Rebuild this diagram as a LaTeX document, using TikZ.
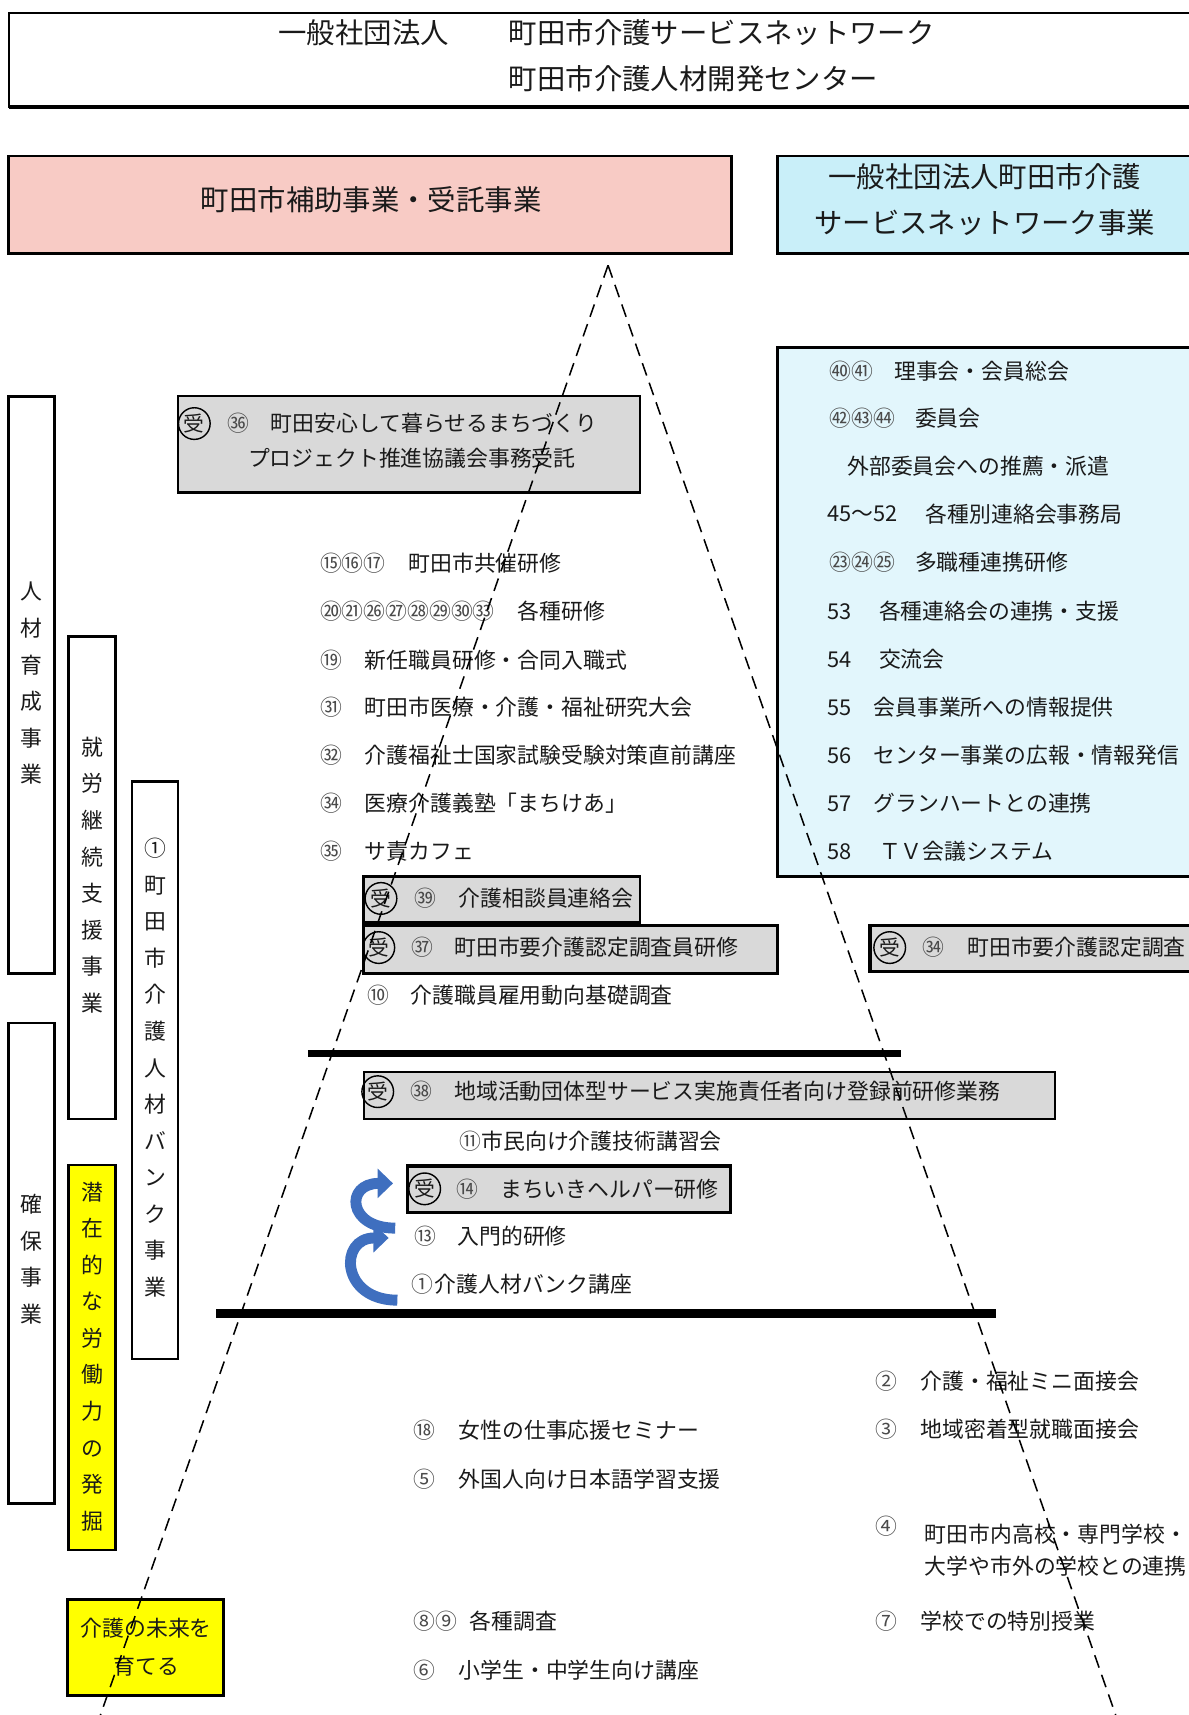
\documentclass[tikz,border=0pt]{standalone}
\usepackage{fontspec}
\setmainfont{Noto Sans CJK JP}
\usetikzlibrary{arrows.meta}
\definecolor{pinkhead}{HTML}{F8CBC5}
\definecolor{cyanhead}{HTML}{C9EFF9}
\definecolor{cyanlist}{HTML}{E2F6FC}
\definecolor{graybox}{HTML}{D9D9D9}
\definecolor{arrowblue}{HTML}{3F6FBF}
\definecolor{inktext}{HTML}{1A1A1A}
\definecolor{numgray}{HTML}{4A4A4A}
\definecolor{yel}{HTML}{FFFF00}
\tikzset{
  box/.style={draw, rectangle, inner sep=0pt, outer sep=0pt, line width=2pt},
  htxt/.style={inner sep=0pt, font=\fontsize{26}{42}\selectfont, text=inktext},
  txt/.style={anchor=west, inner sep=0pt, font=\fontsize{20}{24}\selectfont, text=inktext},
  cnum/.style={anchor=west, inner sep=0pt, font=\fontsize{20}{22}\selectfont, text=numgray},
  cnumc/.style={inner sep=0pt, font=\fontsize{20}{22}\selectfont, text=numgray},
  uke/.style={circle, draw, line width=1.3pt, inner sep=0pt, minimum size=29pt, font=\fontsize{19}{20}\selectfont, text=inktext},
  vtxt/.style={align=center, inner sep=0pt, font=\fontsize{20}{33.5}\selectfont, text=inktext},
  bar/.style={line width=8pt},
  pyr/.style={dash pattern=on 12pt off 7pt, line width=1.4pt},
  barrow/.style={line width=10pt, color=arrowblue, -{Triangle[length=14pt,width=26pt]}},
}
\begin{document}
\begin{tikzpicture}[x=1pt,y=-1pt]
\useasboundingbox (0,0) rectangle (1089,1571);

% ---------- header boxes ----------
\node[box, line width=1.6pt, minimum width=1087pt, minimum height=86pt] (topbox) at (551.5,55) {};
\draw[line width=3.5pt] (topbox.south west) -- (topbox.south east);
\node[htxt, anchor=west] (t1a) at (255,30) {一般社団法人};
\node[htxt, anchor=west] (t1b) at (466,30) {町田市介護サービスネットワーク};
\node[htxt, anchor=west] (t1c) at (466,72) {町田市介護人材開発センター};

\node[box, line width=2.4pt, fill=pinkhead, minimum width=662pt, minimum height=89pt] (pink) at (339,187.5) {};
\node[htxt] (pinkt) at (340,183) {町田市補助事業・受託事業};

\node[box, line width=2.4pt, fill=cyanhead, minimum width=383pt, minimum height=89pt] (cyanh) at (903.5,187.5) {};
\node[htxt, align=center] (cyanht) at (902,183) {一般社団法人町田市介護\\サービスネットワーク事業};

% ---------- left vertical boxes ----------
\node[box, line width=2.4pt, minimum width=42pt, minimum height=529pt] (v1) at (29,627.5) {};
\node[vtxt] (v1t) at (29,626) {人\\材\\育\\成\\事\\業};
\node[box, line width=2.4pt, minimum width=42pt, minimum height=440pt] (v2) at (29,1157) {};
\node[vtxt] (v2t) at (29,1153.5) {確\\保\\事\\業};
\node[box, line width=2.4pt, minimum width=43pt, minimum height=442pt] (v3) at (84.5,804) {};
\node[vtxt] (v3t) at (84.5,801.5) {就\\労\\継\\続\\支\\援\\事\\業};
\node[box, line width=2.4pt, fill=yel, minimum width=43pt, minimum height=353pt] (v4) at (84.5,1243.5) {};
\node[vtxt] (v4t) at (84.5,1242.5) {潜\\在\\的\\な\\労\\働\\力\\の\\発\\掘};
\node[box, line width=2.4pt, minimum width=42pt, minimum height=529pt] (v5) at (142,980.5) {};
\node[vtxt] (v5t) at (142,978) {①\\町\\田\\市\\介\\護\\人\\材\\バ\\ン\\ク\\事\\業};
\node[box, line width=2.4pt, fill=yel, minimum width=143pt, minimum height=88pt] (v6) at (133.5,1509) {};
\node[vtxt, font=\fontsize{20}{35}\selectfont] (v6t) at (134,1509) {介護の未来を\\育てる};

% ---------- right cyan list ----------
\node[box, line width=2.6pt, fill=cyanlist, minimum width=383pt, minimum height=485pt] (clist) at (903.5,560.5) {};
\node[cnum] (c1n) at (760,340) {㊵㊶};
\node[txt] (c1t) at (819,340) {理事会・会員総会};
\node[cnum] (c2n) at (760,383) {㊷㊸㊹};
\node[txt] (c2t) at (838,383) {委員会};
\node[txt] (c3t) at (776,427) {外部委員会への推薦・派遣};
\node[txt] (c4n) at (758,471) {45～52};
\node[txt] (c4t) at (848,471) {各種別連絡会事務局};
\node[cnum] (c5n) at (760,515) {㉓㉔㉕};
\node[txt] (c5t) at (838,515) {多職種連携研修};
\node[txt] (c6n) at (758,560) {53};
\node[txt] (c6t) at (805,560) {各種連絡会の連携・支援};
\node[txt] (c7n) at (758,604) {54};
\node[txt] (c7t) at (805,604) {交流会};
\node[txt] (c8n) at (758,648) {55};
\node[txt] (c8t) at (800,648) {会員事業所への情報提供};
\node[txt] (c9n) at (758,692) {56};
\node[txt] (c9t) at (800,692) {センター事業の広報・情報発信};
\node[txt] (c10n) at (758,736) {57};
\node[txt] (c10t) at (800,736) {グランハートとの連携};
\node[txt] (c11n) at (758,780) {58};
\node[txt] (c11t) at (805,780) {ＴＶ会議システム};

% ---------- gray boxes ----------
\node[box, line width=2.2pt, fill=graybox, minimum width=423pt, minimum height=88pt] (ga) at (374.5,407) {};
\node[uke] (gau) at (178,388) {受};
\node[cnumc] (gan) at (218,388) {㊱};
\node[txt] (gat1) at (248,388) {町田安心して暮らせるまちづくり};
\node[txt] (gat2) at (227,420) {プロジェクト推進協議会事務受託};

\node[box, line width=2.2pt, fill=graybox, minimum width=253pt, minimum height=42pt] (gb) at (459.5,824) {};
\node[uke] (gbu) at (349,823) {受};
\node[cnumc] (gbn) at (390,823) {㊴};
\node[txt] (gbt) at (420,823) {介護相談員連絡会};

\node[box, line width=3pt, fill=graybox, minimum width=379pt, minimum height=44pt] (gc) at (522.5,870) {};
\node[uke] (gcu) at (347,868) {受};
\node[cnumc] (gcn) at (387,868) {㊲};
\node[txt] (gct) at (416,868) {町田市要介護認定調査員研修};

\node[box, line width=3pt, fill=graybox, minimum width=298pt, minimum height=42pt] (gd) at (946,869) {};
\node[uke] (gdu) at (815,868) {受};
\node[cnumc] (gdn) at (855,868) {㉞};
\node[txt] (gdt) at (886,868) {町田市要介護認定調査};

\node[box, line width=1.8pt, fill=graybox, minimum width=633pt, minimum height=43pt] (ge) at (649.5,1003.5) {};
\node[uke] (geu) at (346,1000) {受};
\node[cnumc] (gen) at (386,1000) {㊳};
\node[txt] (get) at (416,1000) {地域活動団体型サービス実施責任者向け登録前研修業務};

\node[box, line width=3pt, fill=graybox, minimum width=296pt, minimum height=43pt] (gf) at (521,1089.5) {};
\node[uke] (gfu) at (389,1089) {受};
\node[cnumc] (gfn) at (428,1089) {⑭};
\node[txt] (gft) at (458,1089) {まちいきヘルパー研修};

% ---------- middle list ----------
\node[cnum] (m1n) at (293,516) {⑮⑯⑰};
\node[txt] (m1t) at (374,516) {町田市共催研修};
\node[cnum] (m2n) at (293,560) {⑳㉑㉖㉗㉘㉙㉚㉝};
\node[txt] (m2t) at (474,560) {各種研修};
\node[cnumc] (m3n) at (304,605) {⑲};
\node[txt] (m3t) at (334,605) {新任職員研修・合同入職式};
\node[cnumc] (m4n) at (304,648) {㉛};
\node[txt] (m4t) at (334,648) {町田市医療・介護・福祉研究大会};
\node[cnumc] (m5n) at (304,692) {㉜};
\node[txt] (m5t) at (334,692) {介護福祉士国家試験受験対策直前講座};
\node[cnumc] (m6n) at (304,736) {㉞};
\node[txt] (m6t) at (334,736) {医療介護義塾「まちけあ」};
\node[cnumc] (m7n) at (304,780) {㉟};
\node[txt] (m7t) at (334,780) {サ責カフェ};
\node[cnumc] (m8n) at (347,912) {⑩};
\node[txt] (m8t) at (376,912) {介護職員雇用動向基礎調査};

% ---------- between bars ----------
\node[cnum] (b1n) at (421,1045) {⑪};
\node[txt] (b1t) at (441,1045) {市民向け介護技術講習会};
\node[cnumc] (b2n) at (390,1132) {⑬};
\node[txt] (b2t) at (419,1132) {入門的研修};
\node[cnum] (b3n) at (377,1176) {①};
\node[txt] (b3t) at (398,1176) {介護人材バンク講座};

% ---------- bottom ----------
\node[cnumc] (d1n) at (812,1265) {②};
\node[txt] (d1t) at (843,1265) {介護・福祉ミニ面接会};
\node[cnumc] (d2n) at (812,1309) {③};
\node[txt] (d2t) at (843,1309) {地域密着型就職面接会};
\node[cnumc] (d3n) at (389,1310) {⑱};
\node[txt] (d3t) at (420,1310) {女性の仕事応援セミナー};
\node[cnumc] (d4n) at (389,1355) {⑤};
\node[txt] (d4t) at (420,1355) {外国人向け日本語学習支援};
\node[cnumc] (d5n) at (812,1398) {④};
\node[txt] (d5t) at (847,1405) {町田市内高校・専門学校・};
\node[txt] (d5u) at (847,1435) {大学や市外の学校との連携};
\node[cnumc] (d6n) at (812,1485) {⑦};
\node[txt] (d6t) at (843,1485) {学校での特別授業};
\node[cnum] (d7n) at (379,1485) {⑧⑨};
\node[txt] (d7t) at (430,1485) {各種調査};
\node[cnumc] (d8n) at (389,1530) {⑥};
\node[txt] (d8t) at (420,1530) {小学生・中学生向け講座};

% ---------- bars ----------
\coordinate (bar1l) at (282,965);
\coordinate (bar1r) at (825,965);
\coordinate (bar2l) at (198,1203);
\coordinate (bar2r) at (912,1203);
\draw[bar, line width=7pt] (bar1l) -- (bar1r);
\draw[bar] (bar2l) -- (bar2r);

% ---------- pyramid ----------
\coordinate (apex) at (557,243);
\coordinate (pl) at (92,1571);
\coordinate (pr) at (1022,1571);
\draw[pyr] (apex) -- (pl);
\draw[pyr] (apex) -- (pr);

% ---------- blue curved arrows ----------
\coordinate (a1s) at (362,1125);
\coordinate (a1e) at (360,1084);
\coordinate (a2s) at (364,1191);
\coordinate (a2e) at (356,1134);
\draw[barrow] (a1s) .. controls (318,1125) and (316,1084) .. (a1e);
\draw[barrow] (a2s) .. controls (312,1191) and (310,1134) .. (a2e);
\end{tikzpicture}
\end{document}
